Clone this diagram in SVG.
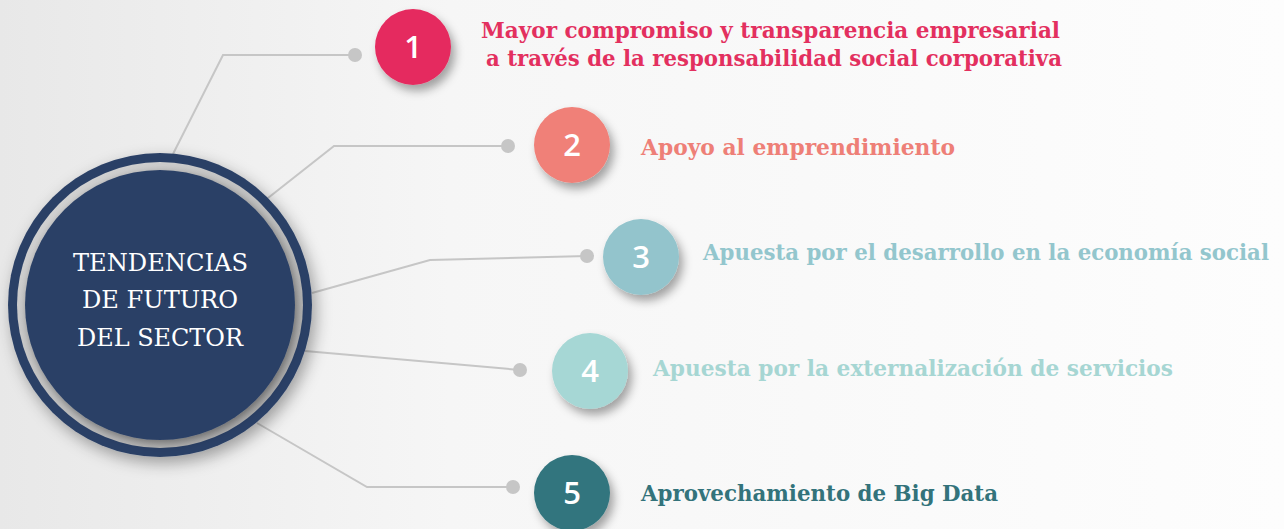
<svg xmlns="http://www.w3.org/2000/svg" width="1284" height="529" viewBox="0 0 1284 529">
<defs>
<linearGradient id="bg" x1="0" y1="0" x2="1" y2="0">
<stop offset="0" stop-color="#e8e8e8"/>
<stop offset="0.35" stop-color="#f6f6f6"/>
<stop offset="1" stop-color="#fdfdfd"/>
</linearGradient>
<linearGradient id="ring" x1="0" y1="0" x2="1" y2="1">
<stop offset="0" stop-color="#d8d8d8"/>
<stop offset="1" stop-color="#a9a9a9"/>
</linearGradient>
<filter id="sh" x="-30%" y="-30%" width="170%" height="170%">
<feDropShadow dx="4" dy="6" stdDeviation="5" flood-color="#000" flood-opacity="0.35"/>
</filter>
<filter id="shm" x="-20%" y="-20%" width="140%" height="140%">
<feDropShadow dx="4" dy="6" stdDeviation="8" flood-color="#000" flood-opacity="0.35"/>
</filter>
<filter id="shi" x="-20%" y="-20%" width="140%" height="140%">
<feDropShadow dx="2" dy="3" stdDeviation="4" flood-color="#000" flood-opacity="0.4"/>
</filter>
</defs>
<style>
.conn{fill:none;stroke:#c6c6c6;stroke-width:2}
.dot{fill:#c6c6c6}
.num{font-family:"Open Sans","DejaVu Sans",sans-serif;font-weight:600;font-size:31px;fill:#ffffff;text-anchor:middle}
.lbl{font-family:"DejaVu Serif","Liberation Serif",serif;font-weight:bold;font-size:23px}
.main{font-family:"DejaVu Serif","Liberation Serif",serif;font-size:25px;fill:#ffffff;text-anchor:middle}
</style>
<rect width="1284" height="529" fill="url(#bg)"/>
<g id="connectors">
<polyline class="conn" points="173,154 223,55 355,55"/>
<circle class="dot" cx="355" cy="55" r="7"/>
<polyline class="conn" points="268,198 334,146 508,146"/>
<circle class="dot" cx="508" cy="146" r="7"/>
<polyline class="conn" points="312,293 430,260 587,256"/>
<circle class="dot" cx="587" cy="256" r="7"/>
<polyline class="conn" points="305,351 520,370"/>
<circle class="dot" cx="520" cy="370" r="7"/>
<polyline class="conn" points="257,423 367,487 513,487"/>
<circle class="dot" cx="513" cy="487" r="7"/>
</g>
<g id="center">
<circle cx="160" cy="305" r="152" fill="#2c4166" filter="url(#shm)"/>
<circle cx="160" cy="305" r="143" fill="url(#ring)"/>
<circle cx="160" cy="305" r="135" fill="#2c4166" filter="url(#shi)"/>
<text class="main" x="160.5" y="271" textLength="175" lengthAdjust="spacingAndGlyphs">TENDENCIAS</text>
<text class="main" x="160" y="308" textLength="156" lengthAdjust="spacingAndGlyphs">DE FUTURO</text>
<text class="main" x="160" y="346" textLength="166" lengthAdjust="spacingAndGlyphs">DEL SECTOR</text>
</g>
<g id="node1">
<circle cx="413" cy="47" r="38" fill="#e52b5f" filter="url(#sh)"/>
<text class="num" x="413" y="58">1</text>
<text class="lbl" x="481" y="38" fill="#e3305f" textLength="579" lengthAdjust="spacingAndGlyphs">Mayor compromiso y transparencia empresarial</text>
<text class="lbl" x="486" y="66" fill="#e3305f" textLength="576" lengthAdjust="spacingAndGlyphs">a través de la responsabilidad social corporativa</text>
</g>
<g id="node2">
<circle cx="572" cy="145" r="38" fill="#f08078" filter="url(#sh)"/>
<text class="num" x="572" y="156">2</text>
<text class="lbl" x="641" y="155" fill="#ee7f77" textLength="314" lengthAdjust="spacingAndGlyphs">Apoyo al emprendimiento</text>
</g>
<g id="node3">
<circle cx="641" cy="257" r="38" fill="#93c4cc" filter="url(#sh)"/>
<text class="num" x="641" y="268">3</text>
<text class="lbl" x="703" y="260" fill="#93c6cd" textLength="566" lengthAdjust="spacingAndGlyphs">Apuesta por el desarrollo en la economía social</text>
</g>
<g id="node4">
<circle cx="590" cy="371" r="38" fill="#a6d7d5" filter="url(#sh)"/>
<text class="num" x="590" y="382">4</text>
<text class="lbl" x="653" y="376" fill="#a6d6d3" textLength="520" lengthAdjust="spacingAndGlyphs">Apuesta por la externalización de servicios</text>
</g>
<g id="node5">
<circle cx="572" cy="493" r="38" fill="#33757e" filter="url(#sh)"/>
<text class="num" x="572" y="504">5</text>
<text class="lbl" x="641" y="501" fill="#33737b" textLength="357" lengthAdjust="spacingAndGlyphs">Aprovechamiento de Big Data</text>
</g>
</svg>
